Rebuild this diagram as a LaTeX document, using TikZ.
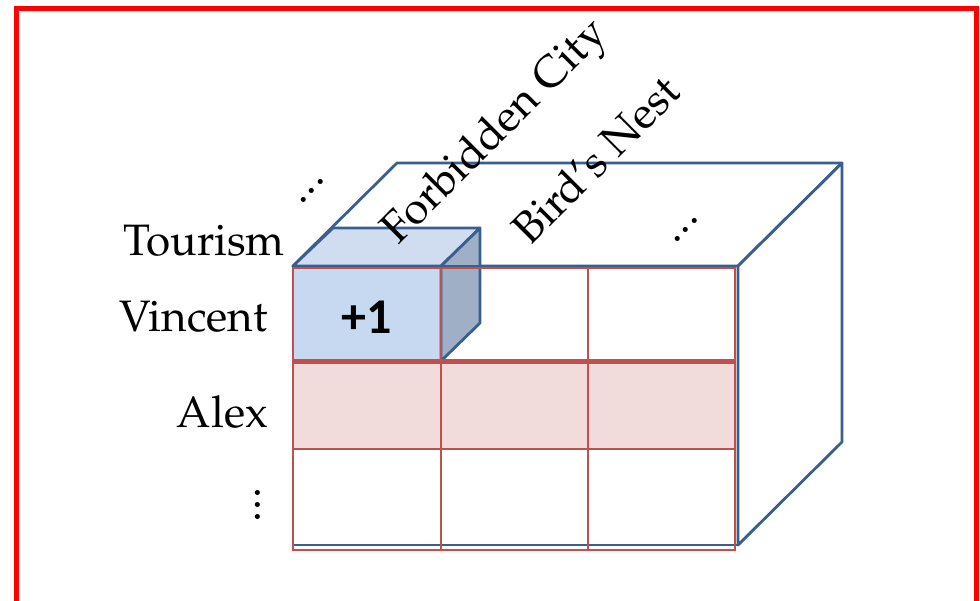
\documentclass[tikz,border=0pt]{standalone}
\usepackage[T1]{fontenc}
\usepackage{fontspec}
\newfontfamily\calibrifont{Carlito}
% Palatino-style serif for the labels
\newcommand\palfont{\fontencoding{T1}\fontfamily{ppl}\selectfont}
\newcommand\threedots{.\kern0.03em.\kern0.03em.}
\definecolor{boxblue}{HTML}{3A5F8F}
\definecolor{gridred}{HTML}{C0504D}
\definecolor{rowpink}{HTML}{F2DCDB}
\definecolor{cellblue}{HTML}{C6D9F1}
\definecolor{celltop}{HTML}{D0DDF1}
\definecolor{cellside}{HTML}{9EAFC6}
\definecolor{framered}{HTML}{FF0000}

\begin{document}
\begin{tikzpicture}[x=1pt,y=-1pt,
  blueline/.style={draw=boxblue,line width=2.8pt,line join=round},
  redline/.style={draw=gridred,line width=2.8pt},
  thickred/.style={draw=gridred,line width=5pt},
  lbl/.style={font=\fontsize{44}{50}\palfont,inner sep=0pt},
  plusone/.style={font=\fontsize{50}{56}\calibrifont\bfseries,inner sep=0pt},
]
\useasboundingbox (0,0) rectangle (980,600);
\clip (0,0) rectangle (980,600);

% outer frame
\draw[framered,line width=5pt] (16.5,640) -- (16.5,8.5) -- (976.5,8.5) -- (976.5,640);

% big box corners: front face and back offset
\coordinate (F1) at (293,266);
\coordinate (F2) at (738,266);
\coordinate (F3) at (738,545);
\coordinate (F4) at (293,545);
\coordinate (B1) at (397,163);
\coordinate (B2) at (842,163);
\coordinate (B3) at (842,442);

\draw[blueline,fill=white] (F1) -- (B1) -- (B2) -- (F2) -- cycle;
\draw[blueline,fill=white] (F2) -- (B2) -- (B3) -- (F3) -- cycle;
\draw[blueline] (F1) -- (F2) -- (F3) -- (F4) -- cycle;

% matrix cells
\fill[rowpink] (293,361) rectangle (735,449);
\fill[cellblue] (293,268) rectangle (441,361);

% small cube on the first cell
\coordinate (C1) at (293,266);
\coordinate (C2) at (441,266);
\coordinate (C3) at (333,228);
\coordinate (C4) at (480,228);
\coordinate (C5) at (480,323);
\coordinate (C6) at (441,361);
\draw[blueline,fill=celltop] (C1) -- (C3) -- (C4) -- (C2) -- cycle;
\draw[blueline,fill=cellside] (C2) -- (C4) -- (C5) -- (C6) -- cycle;

% grid lines
\draw[redline] (293,268) rectangle (735,550);
\draw[redline] (441,268) -- (441,550);
\draw[redline] (588,268) -- (588,550);
\draw[redline] (293,449) -- (735,449);
\draw[thickred] (293,361) -- (735,361);
\draw[boxblue,line width=2.8pt] (F1) -- (F2);

% row labels
\node[lbl,anchor=base east] (tourism) at (285,255) {Tourism};
\node[lbl,anchor=base east] (vincent) at (268,331) {Vincent};
\node[lbl,anchor=base east] (alex) at (268,427) {Alex};
\node[lbl,rotate=-90] (rowdots) at (258,505) {\threedots};

% column labels
\node[lbl,rotate=45] (topdots) at (312,191) {\threedots};
\node[lbl,rotate=45,anchor=base west] (forbidden) at (398,246) {Forbidden City};
\node[lbl,rotate=45,anchor=base west] (birdsnest) at (530,247) {Bird's Nest};
\node[lbl,rotate=45] (coldots) at (686,230) {\threedots};

% count in the cube
\node[plusone] (count) at (367,317) {+1};
\end{tikzpicture}
\end{document}
